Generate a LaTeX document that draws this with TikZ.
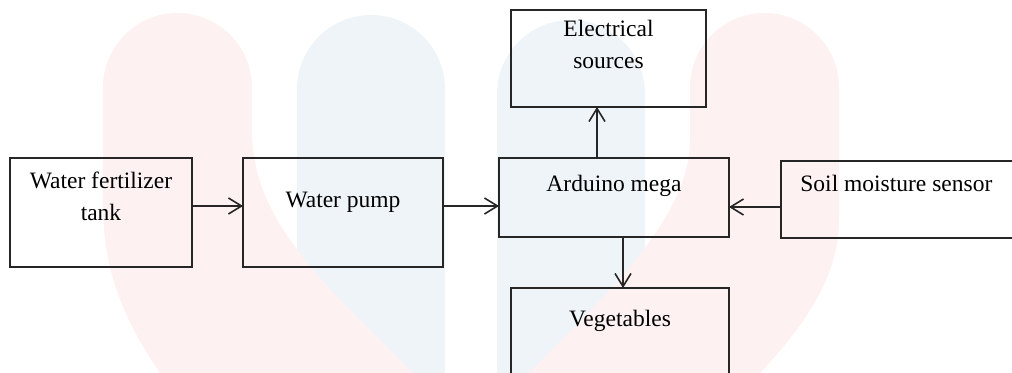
\documentclass[tikz,border=0pt]{standalone}
\usepackage{fontspec}
\setmainfont{Liberation Serif}
\usetikzlibrary{positioning, arrows.meta, backgrounds}
\definecolor{wmred}{HTML}{FDF1F1}
\definecolor{wmblue}{HTML}{EFF4F8}

\begin{document}
\begin{tikzpicture}[
  blk/.style ={draw=black!85, line width=1pt, inner sep=0pt, outer sep=0pt},
  txt/.style ={inner sep=0pt, align=center, font=\fontsize{11.75pt}{16pt}\selectfont},
  flow/.style={-{Straight Barb[length=6.5pt, width=8pt]}, line width=0.8pt, draw=black!85},
  wm/.style  ={draw=none, fill=#1},
]
\useasboundingbox (0,0) rectangle (506pt,-186.5pt);

% ---------- tank and pump ----------
\node[blk, minimum width=91pt, minimum height=54.5pt, anchor=north west] (tank) at (5pt,-79pt) {};
\node[txt, below=7pt of tank.north] (tanktxt) {Water fertilizer\\tank};
\node[blk, minimum width=100pt, minimum height=54.5pt, right=25.5pt of tank] (pump) {};
\node[txt, below=17pt of pump.north] (pumptxt) {Water pump};

% ---------- controller ----------
\node[blk, minimum width=115pt, minimum height=39.5pt, right=28pt of pump.north east, anchor=north west] (mega) {};
\node[txt, below=8.5pt of mega.north] (megatxt) {Arduino mega};

% ---------- power and output ----------
\node[blk, minimum width=97.5pt, minimum height=48.5pt, above=25.5pt of mega, xshift=-2.75pt] (power) {};
\node[txt, below=5pt of power.north] (powertxt) {Electrical\\sources};
\node[blk, minimum width=109pt, minimum height=60pt, below=25.5pt of mega, xshift=3pt] (veg) {};
\node[txt, below=11pt of veg.north] (vegtxt) {Vegetables};

% ---------- sensor ----------
\node[blk, minimum width=120pt, minimum height=38.5pt, right=26pt of mega.north east, anchor=north west, yshift=-1.5pt] (soil) {};
\node[txt, below right=7pt and 9.5pt of soil.north west] (soiltxt) {Soil moisture sensor};

% ---------- flows ----------
\draw[flow] ([yshift=3.25pt]tank.east) -- ([yshift=3.25pt]pump.west);
\draw[flow] ([yshift=3.25pt]pump.east) -- ([yshift=-4.25pt]mega.west);
\draw[flow] ([yshift=-3.75pt]soil.west) -- ([yshift=-4.75pt]mega.east);
\draw[flow] ([xshift=-8.5pt]mega.north) -- ([xshift=-5.75pt]power.south);
\draw[flow] ([xshift=4.5pt]mega.south) -- ([xshift=1.5pt]veg.north);

% ---------- watermark ----------
\begin{scope}[on background layer]
  \fill[wm=wmblue] (148.5pt,-186.5pt) -- (148.5pt,-44.5pt) arc[start angle=180, end angle=0, radius=37pt] -- (222.5pt,-186.5pt) -- cycle;
  \fill[wm=wmblue] (248.5pt,-186.5pt) -- (248.5pt,-47pt) arc[start angle=180, end angle=0, radius=37pt] -- (322.5pt,-186.5pt) -- cycle;
  \fill[wm=wmred] (80pt,-186.5pt) .. controls (55pt,-150pt) and (51.5pt,-125pt) .. (51.5pt,-100pt) -- (51.5pt,-43.75pt)
    arc[start angle=180, end angle=0, radius=37.25pt] -- (126pt,-65pt) .. controls (126pt,-110pt) and (160pt,-140pt) .. (206.5pt,-186.5pt) -- cycle;
  \fill[wm=wmred] (264.5pt,-186.5pt) .. controls (300pt,-150pt) and (345pt,-110pt) .. (345pt,-70pt) -- (345pt,-43.75pt)
    arc[start angle=180, end angle=0, radius=37.25pt] -- (419.5pt,-110pt) .. controls (419.5pt,-140pt) and (400pt,-165pt) .. (380pt,-186.5pt) -- cycle;
\end{scope}

\end{tikzpicture}
\end{document}
